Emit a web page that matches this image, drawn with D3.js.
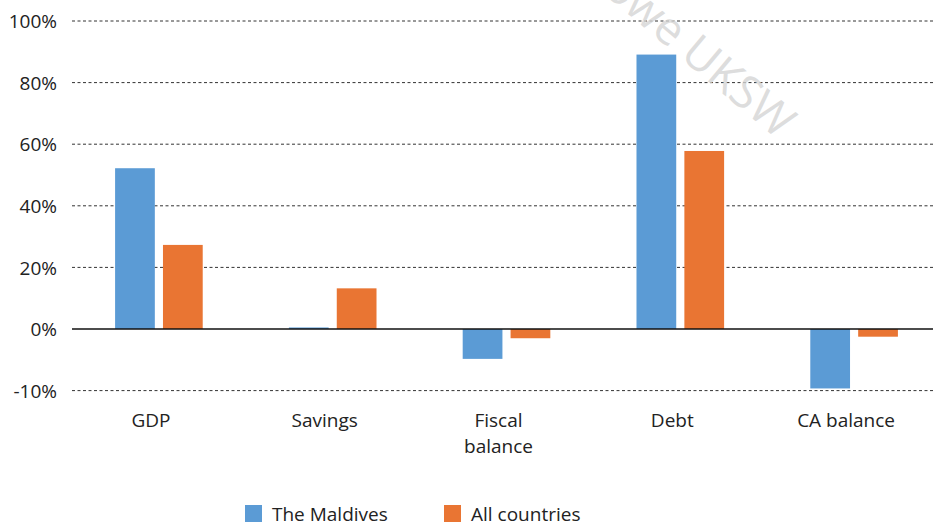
<!DOCTYPE html>
<html><head><meta charset="utf-8">
<script src="https://cdn.jsdelivr.net/npm/d3@7"></script>
<style>body{margin:0;background:#fff}svg{display:block}</style>
</head><body>
<svg id="c" width="933" height="526"></svg>
<script>
const categories = [["GDP"], ["Savings"], ["Fiscal", "balance"], ["Debt"], ["CA balance"]];
const seriesNames = ["The Maldives", "All countries"];
const maldives = [52.2, 0.5, -9.7, 89.1, -19.3];
const allCountries = [27.3, 13.2, -3.0, 57.8, -2.5];
const tickValues = [-20, 0, 20, 40, 60, 80, 100];
const tickLabels = ["-10%", "0%", "20%", "40%", "60%", "80%", "100%"];
const colors = ["#5B9BD5", "#E97533"];

const svg = d3.select("#c");
const font = "'Open Sans', sans-serif";
const x = d3.scaleBand().domain(d3.range(categories.length)).range([72, 941]).paddingInner(0).paddingOuter(0);
const y = d3.scaleLinear().domain([-20, 100]).range([390.6, 21]);
const xs = d3.scaleBand().domain([0, 1]).range([0, x.bandwidth()]).paddingInner(0.17).paddingOuter(0.9);

// gridlines
svg.append("g").selectAll("line").data(tickValues.filter(v => v !== 0)).join("line")
  .attr("x1", 72).attr("x2", 933)
  .attr("y1", d => y(d)).attr("y2", d => y(d))
  .attr("stroke", "#333").attr("stroke-width", 1).attr("stroke-dasharray", "3,2.5");

// y axis labels
const yAxis = d3.axisLeft(y).tickValues(tickValues).tickFormat((d, i) => tickLabels[i]).tickSize(0).tickPadding(0);
const ga = svg.append("g").attr("transform", "translate(57,0)").call(yAxis);
ga.select(".domain").remove();
ga.selectAll("text").attr("font-family", font).attr("font-size", 19).attr("fill", "#222").attr("dy", "0.35em");

// bars
const data = [maldives, allCountries];
data.forEach((vals, s) => {
  svg.append("g").selectAll("rect").data(vals).join("rect")
    .attr("x", (d, i) => x(i) + xs(s))
    .attr("width", xs.bandwidth())
    .attr("y", d => y(Math.max(0, d)))
    .attr("height", d => Math.abs(y(d) - y(0)))
    .attr("fill", colors[s]);
});

// zero line
svg.append("line").attr("x1", 72).attr("x2", 933).attr("y1", y(0)).attr("y2", y(0))
  .attr("stroke", "#111").attr("stroke-width", 1.6);

// category labels
const cl = svg.append("g").selectAll("text").data(categories).join("text")
  .attr("x", (d, i) => x(i) + x.bandwidth() / 2 - 8)
  .attr("y", 427)
  .attr("text-anchor", "middle").attr("font-family", font).attr("font-size", 19).attr("fill", "#222");
cl.selectAll("tspan").data(d => d).join("tspan")
  .attr("x", function() { return d3.select(this.parentNode).attr("x"); })
  .attr("dy", (d, i) => i === 0 ? 0 : 26)
  .text(d => d);

// legend
const leg = svg.append("g");
const legX = [245, 444];
seriesNames.forEach((n, i) => {
  leg.append("rect").attr("x", legX[i]).attr("y", 505).attr("width", 17).attr("height", 17).attr("fill", colors[i]);
  leg.append("text").attr("x", legX[i] + 27).attr("y", 521).attr("font-family", font).attr("font-size", 19).attr("fill", "#222").text(n);
});

// watermark
svg.append("text").attr("transform", "translate(778,140) rotate(40)")
  .attr("text-anchor", "end").attr("font-family", font).attr("font-size", 46)
  .attr("fill", "#d4d4d4").attr("fill-opacity", 0.8).text("owe UKSW");
</script>
</body></html>
